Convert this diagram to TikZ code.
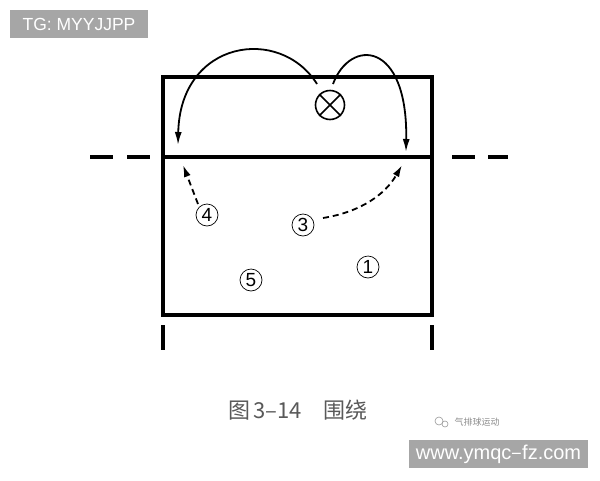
\documentclass[tikz,border=0pt]{standalone}
\usepackage{fontspec}
\setmainfont{Liberation Sans}
\newfontfamily\cjk{Noto Sans CJK SC}
\usetikzlibrary{arrows.meta}
\begin{document}
\begin{tikzpicture}[x=1pt,y=-1pt,
  court/.style={line width=3.4pt},
  tick/.style={line width=3.4pt},
  pl/.style={circle,draw,line width=0.7pt,inner sep=0pt,minimum size=22pt,font=\fontsize{19}{19}\selectfont},
  runarrow/.style={line width=1.8pt,-{Latex[length=13pt,width=7pt]}},
  dasharrow/.style={line width=1.8pt,dash pattern=on 6pt off 4pt,-{Latex[length=12pt,width=7pt]}},
  graybox/.style={fill=black!35,text=white,inner sep=0pt}]
\useasboundingbox (0,0) rectangle (600,480);
\fill[white] (0,0) rectangle (600,480);
% label boxes
\node[graybox,minimum width=138pt,minimum height=28pt,font=\fontsize{17.5}{17.5}\selectfont] (tg) at (79,24) {TG: MYYJJPP};
\node[graybox,minimum width=179pt,minimum height=28pt,font=\fontsize{20}{20}\selectfont] (www) at (498.5,454) {www.ymqc{\cjk –}fz.com};
% court
\draw[court] (163,77) rectangle (432,315);
\coordinate (netL) at (163,157);
\coordinate (netR) at (432,157);
\draw[court] (netL) -- (netR);
\draw[tick] (90,157) -- (113,157);
\draw[tick] (127,157) -- (150,157);
\draw[tick] (452,157) -- (475,157);
\draw[tick] (488,157) -- (508,157);
\draw[tick] (163,325) -- (163,350);
\draw[tick] (432,325) -- (432,350);
% setter / cross
\node[circle,draw,line width=1.6pt,minimum size=29pt,inner sep=0pt] (x) at (330,105) {};
\draw[line width=1.6pt] (x.45) -- (x.225) (x.135) -- (x.315);
\coordinate (a1s) at (317,84);
\coordinate (a1e) at (178,145);
\coordinate (a2s) at (333,84);
\coordinate (a2e) at (406,152);
\draw[runarrow] (a1s) .. controls (280,25) and (180,40) .. (a1e);
\draw[runarrow] (a2s) .. controls (350,38) and (408,40) .. (a2e);
% players
\node[pl] (p4) at (207,215) {4};
\node[pl] (p3) at (303,225) {3};
\node[pl] (p1) at (368,267) {1};
\node[pl] (p5) at (251,280) {5};
\coordinate (t4) at (183,165);
\coordinate (t3) at (402,165);
\draw[dasharrow] (198,204) -- (t4);
\draw[dasharrow] (323,218) .. controls (360,212) and (385,195) .. (t3);
% caption
\node[font=\cjk\fontsize{22}{22}\selectfont,text=black!65,inner sep=0pt] (cap) at (298,410) {图\hspace{3pt}3–14\hspace{22pt}围绕};
\node[font=\cjk\fontsize{9}{9}\selectfont,text=black!45,inner sep=0pt] (wm) at (477,422) {气排球运动};
\node[circle,draw=black!40,line width=0.6pt,minimum size=8pt,inner sep=0pt] (ic1) at (439,421) {};
\node[circle,draw=black!40,line width=0.6pt,minimum size=6pt,inner sep=0pt] (ic2) at (445,424) {};
\end{tikzpicture}
\end{document}
